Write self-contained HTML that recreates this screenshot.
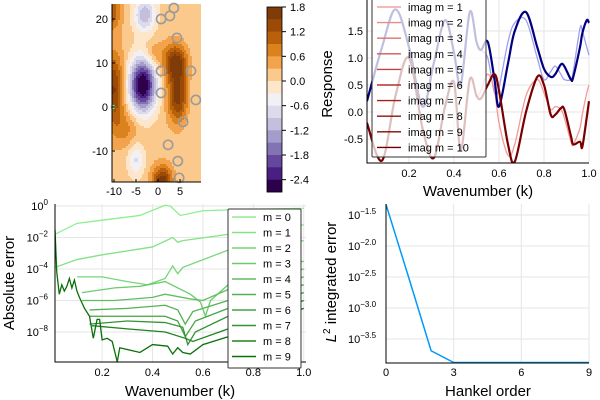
<!DOCTYPE html>
<html><head><meta charset="utf-8"><style>
html,body{margin:0;padding:0;background:#fff}
svg{display:block;font-family:"Liberation Sans",sans-serif}
</style></head><body>
<svg id="s" width="600" height="400" viewBox="0 0 600 400"></svg>
<script>
// ---------- data ----------
const hmBlobX=[-3.5,-3,-5,-10,-10.5,4,4.5,1,-1,-7,9];
const hmBlobY=[5,21,-12,4,22,10,2,-17,12,-5,0];
const hmBlobA=[-3.0,-1.3,-0.8,1.4,1.0,1.6,1.5,1.6,0.5,0.5,-0.15];
const hmBlobSX=[2.1,1.7,1.3,1.6,1.5,1.9,1.6,1.6,1.5,2,3];
const hmBlobSY=[4.2,2.7,2.7,6,3,3,4,2.5,2,3,20];
const circX=[0.7,2.7,3.6,4.3,0.7,7.5,0.7,8.6,5.7,2.3,4.5,4.8];
const circY=[20,20.7,22.5,15.7,8.2,8.2,3.2,1.6,-3.4,-8.6,-12.3,-16.1];
const cbTicks=[1.8,1.2,0.6,0.0,-0.6,-1.2,-1.8,-2.4];
const cbColors=['#7f3b08','#9c4b07','#b8600c','#d9821e','#f3a34c','#fbc98b','#fde6c9','#f2f0f2','#dddbeb','#c3bfdc','#a49ccb','#8273b3','#65479d','#4a1f82','#2d004b'];

const respK=[0.013,0.08,0.14,0.2,0.26,0.31,0.36,0.4,0.43,0.47,0.5,0.52,0.55,0.58,0.6,0.64,0.67,0.72,0.77,0.8,0.83,0.85,0.875,0.89,0.92,0.93,0.96,0.97,0.99,1.0];
const navy=[0.2,1.2,1.9,1.2,0.1,0.9,1.7,1.1,0.5,1.85,1.3,1.15,1.3,0.6,0.1,0.9,1.5,1.85,1.2,0.8,0.65,0.7,0.88,0.85,0.6,0.65,1.2,1.45,1.7,1.65];
const lightBlue=[0.2,1.2,1.9,1.2,0.1,0.9,1.7,1.1,0.5,1.85,1.3,1.15,1.0,0.35,0.45,1.3,1.65,1.7,1.0,0.6,0.75,0.85,0.7,0.6,0.6,0.75,1.55,1.5,1.2,1.05];
const darkRed=[-0.2,-0.9,0.3,1.0,-0.3,-0.85,0.1,0.55,-0.7,0.6,0.3,0.25,0.5,0.7,0.4,-0.6,-0.92,0.0,0.65,0.5,-0.05,-0.05,0.07,0.05,-0.45,-0.6,-0.55,-0.65,-0.1,0.2];
const pink=[-0.2,-0.9,0.3,1.0,-0.3,-0.85,0.1,0.55,-0.7,0.6,0.3,0.4,0.7,0.4,-0.2,-0.8,-0.6,0.3,0.6,0.35,0.05,0.1,0.05,-0.1,-0.55,-0.6,-0.3,-0.05,0.35,0.5];
const respLegend=['imag m = 1','imag m = 2','imag m = 3','imag m = 4','imag m = 5','imag m = 6','imag m = 7','imag m = 8','imag m = 9','imag m = 10'];
const respLegColors=['#f4a0a0','#ec8a8a','#e07070','#d05858','#c04444','#b03030','#a02020','#901010','#800808','#700000'];

const errK=[[0.013,0.1,0.2,0.35,0.45,0.47,0.51,0.6,0.8,1.0],
 [0.013,0.1,0.2,0.4,0.48,0.5,0.52,0.7,1.0],
 [0.1,0.2,0.3,0.38,0.45,0.48,0.5,0.52,0.7,1.0],
 [0.12,0.25,0.35,0.45,0.55,0.59,0.61,0.63,0.7,1.0],
 [0.12,0.25,0.4,0.45,0.55,0.6,0.7,1.0],
 [0.15,0.3,0.45,0.5,0.53,0.56,0.7,1.0],
 [0.15,0.3,0.45,0.5,0.53,0.57,0.7,1.0],
 [0.15,0.3,0.45,0.52,0.54,0.57,0.7,1.0],
 [0.16,0.3,0.45,0.53,0.56,0.7,1.0],
 [0.013,0.02,0.03,0.04,0.05,0.06,0.07,0.08,0.09,0.1,0.11,0.13,0.15,0.165,0.18,0.19,0.2,0.22,0.24,0.26,0.27,0.35,0.4,0.46,0.48,0.5,0.52,0.55,0.6,0.7,1.0]];
const errV=[[-1.8,-1.1,-0.9,-0.6,0.05,0,-0.6,-0.3,-0.2,-0.15],
 [-3.9,-3.4,-3.1,-2.6,-2.0,-2.3,-2.2,-1.8,-1.2],
 [-4.5,-4.5,-4.8,-5.0,-4.6,-3.8,-4.3,-3.9,-2.8,-2.2],
 [-5.5,-5.2,-5.1,-4.8,-5.6,-6.1,-7.0,-6.0,-5.0,-3.5],
 [-6.0,-6.0,-5.8,-5.6,-5.9,-6.0,-5.3,-4.0],
 [-6.6,-6.5,-6.3,-6.6,-7.5,-6.7,-6.0,-4.5],
 [-7.0,-7.0,-7.0,-7.3,-8.3,-7.3,-6.5,-5.0],
 [-7.5,-7.3,-7.4,-7.7,-8.8,-8.0,-7.0,-5.5],
 [-7.6,-7.8,-8.0,-8.4,-8.6,-7.8,-6.0],
 [-1.5,-4.2,-5.6,-5.0,-5.4,-5.1,-4.6,-5.2,-4.7,-5.4,-5.8,-6.5,-7.0,-8.4,-7.2,-7.2,-8.5,-8.4,-8.6,-9.9,-9.0,-9.3,-8.8,-8.9,-9.4,-9.0,-9.3,-9.4,-8.8,-8.3,-6.5]];
const errLegend=['m = 0','m = 1','m = 2','m = 3','m = 4','m = 5','m = 6','m = 7','m = 8','m = 9'];
const errColors=['#90ee90','#84e284','#78d678','#6ccb6c','#5fbf5f','#52b352','#44a444','#339433','#208320','#0a700a'];

const hankOrder=[0,1,2,3,4,5,6,7,8,9];
const hankErr=[-1.33,-2.5,-3.69,-3.88,-3.88,-3.88,-3.88,-3.88,-3.88,-3.88];

// ---------- helpers ----------
const S=document.getElementById('s');const NS='http://www.w3.org/2000/svg';
function mk(t,a,p){const e=document.createElementNS(NS,t);for(const k in a)e.setAttribute(k,a[k]);(p||S).appendChild(e);return e;}
function txt(x,y,s,a,p){const e=mk('text',Object.assign({x:x,y:y,'font-size':11,fill:'#000'},a||{}),p);e.textContent=s;return e;}
function smooth(pts){let d='M'+pts[0][0]+','+pts[0][1];for(let i=0;i<pts.length-1;i++){const p0=pts[i-1]||pts[i],p1=pts[i],p2=pts[i+1],p3=pts[i+2]||p2;
d+=' C'+(p1[0]+(p2[0]-p0[0])/6)+','+(p1[1]+(p2[1]-p0[1])/6)+' '+(p2[0]-(p3[0]-p1[0])/6)+','+(p2[1]-(p3[1]-p1[1])/6)+' '+p2[0]+','+p2[1];}return d;}
function clip(id,x,y,w,h){const c=mk('clipPath',{id:id});mk('rect',{x:x,y:y,width:w,height:h},c);}

// ---------- panel 1: heatmap ----------
const g1=mk('g',{});


const hx=v=>158+v*4.4, hy=v=>107-v*4.4;
clip('c1',112,4,89,178);
const cells=mk('g',{'clip-path':'url(#c1)'},g1);
function field(x,y){let f=0.15;for(let i=0;i<hmBlobX.length;i++){const dx=(x-hmBlobX[i])/hmBlobSX[i],dy=(y-hmBlobY[i])/hmBlobSY[i];f+=hmBlobA[i]*Math.exp(-0.5*(dx*dx+dy*dy));}return f;}
for(let px=112;px<201;px+=2){for(let py=4;py<182;py+=2){const x=(px+1-158)/4.4,y=(107-py-1)/4.4;let v=field(x,y);let b=Math.floor((1.8-v)/0.3);b=Math.max(0,Math.min(14,b));
mk('rect',{x:px,y:py,width:2.2,height:2.2,fill:cbColors[b]},cells);}}
for(let i=0;i<circX.length;i++){const c=mk('circle',{cx:hx(circX[i]),cy:hy(circY[i]),r:4.6,fill:'none',stroke:'#9a9a9a','stroke-width':1.6},g1);

}
mk('circle',{cx:113,cy:107,r:2.3,fill:'#7fd87f'},g1);
mk('path',{d:'M112,4V182H201',fill:'none',stroke:'#000','stroke-width':1},g1);
[-10,-5,0,5].forEach(v=>{mk('line',{x1:hx(v),x2:hx(v),y1:182,y2:179,stroke:'#000'},g1);txt(hx(v),195,String(v),{'text-anchor':'middle'},g1);});
[20,10,0,-10].forEach(v=>{mk('line',{x1:112,x2:115,y1:hy(v),y2:hy(v),stroke:'#000'},g1);txt(108,hy(v)+4,String(v),{'text-anchor':'end'},g1);});
// colorbar
const cb=mk('g',{});


const bh=185/15;
cbColors.forEach((c,i)=>mk('rect',{x:267,y:7+i*bh,width:15,height:bh+0.3,fill:c},cb));
mk('rect',{x:267,y:7,width:15,height:185,fill:'none',stroke:'#000','stroke-width':0.8},cb);
cbTicks.forEach(v=>{const y=7+(1.8-v)/0.3*bh;mk('line',{x1:282,x2:286,y1:y,y2:y,stroke:'#000'},cb);txt(290,y+4,v.toFixed(1).replace('-0.0','0.0'),{},cb);});

// ---------- panel 2: response ----------
const g2=mk('g',{});


const rx=k=>364+k*225, ry=v=>112-v*54;
[0.2,0.4,0.6,0.8,1.0].forEach(v=>{mk('line',{x1:rx(v),x2:rx(v),y1:0,y2:163,stroke:'#e6e6e6'},g2);txt(rx(v),177,v.toFixed(1),{'text-anchor':'middle'},g2);});
[1.5,1.0,0.5,0.0,-0.5].forEach(v=>{mk('line',{x1:367,x2:589,y1:ry(v),y2:ry(v),stroke:'#e6e6e6'},g2);txt(363,ry(v)+4,v.toFixed(1),{'text-anchor':'end'},g2);});
clip('c2',367,0,223,163);
const lg2=mk('g',{'clip-path':'url(#c2)'},g2);
[[lightBlue,'#a0a0f0',1.3],[pink,'#f29a9a',1.3],[navy,'#000080',2.2],[darkRed,'#7a0000',2.2]].forEach(([arr,col,w],j)=>{
const p=mk('path',{d:smooth(respK.map((k,i)=>[rx(k),ry(arr[i])])),fill:'none',stroke:col,'stroke-width':w},lg2);

});
mk('path',{d:'M367,0V163H589',fill:'none',stroke:'#000'},g2);
const leg2=mk('g',{},g2);


mk('rect',{x:372,y:-3,width:114,height:160,fill:'rgba(255,255,255,0.75)',stroke:'#333','stroke-width':1,rx:1},leg2);
respLegend.forEach((s,i)=>{const y=7+i*15.6;mk('line',{x1:377,x2:401,y1:y,y2:y,stroke:respLegColors[i],'stroke-width':1.4},leg2);txt(408,y+4,s,{},leg2);});
txt(478,196,'Wavenumber (k)',{'font-size':15,'text-anchor':'middle'},g2);
txt(332,84,'Response',{'font-size':15,'text-anchor':'middle',transform:'rotate(-90 332 84)'},g2);

// ---------- panel 3: abs error ----------
const g3=mk('g',{});


const ex=k=>55+(k-0.013)*252, ey=v=>206-v*15.75;
[0.2,0.4,0.6,0.8,1.0].forEach(v=>{mk('line',{x1:ex(v),x2:ex(v),y1:204,y2:362,stroke:'#e6e6e6'},g3);txt(ex(v),376,v.toFixed(1),{'text-anchor':'middle'},g3);});
[0,-2,-4,-6,-8].forEach(v=>{mk('line',{x1:55,x2:306,y1:ey(v),y2:ey(v),stroke:'#e6e6e6'},g3);const t=txt(48,ey(v)+4,'10',{'text-anchor':'end'},g3);
const sp=mk('tspan',{dy:-5,'font-size':8},t);sp.textContent=String(v).replace('-','\u2212');});
clip('c3',55,204,251,158);
const lg3=mk('g',{'clip-path':'url(#c3)'},g3);
errV.forEach((arr,j)=>{const p=mk('path',{d:'M'+errK[j].map((k,i)=>ex(k)+','+ey(arr[i])).join(' L'),fill:'none',stroke:errColors[j],'stroke-width':1.3},lg3);

});
mk('path',{d:'M55,204V362H306',fill:'none',stroke:'#000'},g3);
const leg3=mk('g',{},g3);


mk('rect',{x:228,y:209,width:73,height:159,fill:'#fff',stroke:'#333',rx:1},leg3);
errLegend.forEach((s,i)=>{const y=217+i*15.5;mk('line',{x1:232,x2:256,y1:y,y2:y,stroke:errColors[i],'stroke-width':1.4},leg3);txt(263,y+4,s,{},leg3);});
txt(180,396,'Wavenumber (k)',{'font-size':15,'text-anchor':'middle'},g3);
txt(14,283,'Absolute error',{'font-size':15,'text-anchor':'middle',transform:'rotate(-90 14 283)'},g3);

// ---------- panel 4: hankel ----------
const g4=mk('g',{});


const hx4=v=>386+v*(203/9), hy4=v=>215-(v+1.5)*62;
[0,3,6,9].forEach(v=>{mk('line',{x1:hx4(v),x2:hx4(v),y1:204,y2:363,stroke:'#e6e6e6'},g4);txt(hx4(v),376,String(v),{'text-anchor':'middle'},g4);});
[-1.5,-2.0,-2.5,-3.0,-3.5].forEach(v=>{mk('line',{x1:386,x2:589,y1:hy4(v),y2:hy4(v),stroke:'#e6e6e6'},g4);const t=txt(348,hy4(v)+4,'10',{},g4);
const sp=mk('tspan',{dy:-5,'font-size':8},t);sp.textContent=v.toFixed(1).replace('-','\u2212');});
clip('c4',386,200,204,164);
const hl=mk('path',{d:'M'+hankOrder.map((o,i)=>hx4(o)+','+hy4(hankErr[i])).join(' L'),fill:'none',stroke:'#009af9','stroke-width':1.5,'clip-path':'url(#c4)'},g4);


mk('path',{d:'M386,204V363H589',fill:'none',stroke:'#000'},g4);
txt(488,396,'Hankel order',{'font-size':15,'text-anchor':'middle'},g4);
const yl=txt(336,282,'',{'font-size':15,'text-anchor':'middle',transform:'rotate(-90 336 282)'},g4);
const it=mk('tspan',{'font-style':'italic'},yl);it.textContent='L';
const sup=mk('tspan',{dy:-6,'font-size':10},yl);sup.textContent='2';
const rest=mk('tspan',{dy:6},yl);rest.textContent=' integrated error';
</script>
</body></html>
